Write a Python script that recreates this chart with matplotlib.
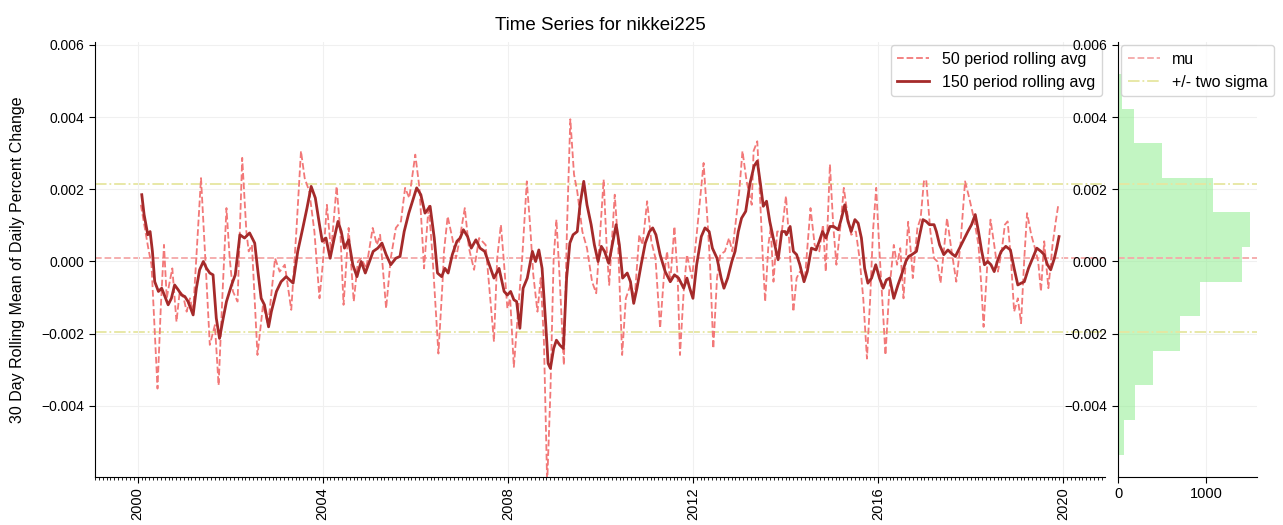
import numpy as np
import matplotlib
matplotlib.use("Agg")
import matplotlib.pyplot as plt
import matplotlib.dates as mdates
from matplotlib.ticker import MultipleLocator

plt.rcParams["font.family"] = ["Liberation Sans", "DejaVu Sans"]
plt.rcParams["font.size"] = 10

# 150 period rolling avg (decimal year, value in 1e-3)
yr150 = [2000.09, 2000.14, 2000.22, 2000.27, 2000.32, 2000.37, 2000.45, 2000.52, 2000.59, 2000.66,
         2000.73, 2000.80, 2000.88, 2000.95, 2001.02, 2001.09, 2001.20, 2001.27, 2001.34, 2001.42,
         2001.49, 2001.56, 2001.63, 2001.70, 2001.77, 2001.85, 2001.92, 2002.03, 2002.11, 2002.21,
         2002.31, 2002.42, 2002.53, 2002.60, 2002.67, 2002.74, 2002.83, 2002.89, 2003.00, 2003.10,
         2003.21, 2003.36, 2003.46, 2003.57, 2003.66, 2003.75, 2003.84, 2003.93, 2003.99, 2004.07,
         2004.16, 2004.25, 2004.33, 2004.40, 2004.47, 2004.56, 2004.65, 2004.74, 2004.83, 2004.92,
         2005.01, 2005.09, 2005.19, 2005.28, 2005.37, 2005.47, 2005.58, 2005.67, 2005.76, 2005.86,
         2005.94, 2006.03, 2006.12, 2006.21, 2006.32, 2006.41, 2006.48, 2006.57, 2006.64, 2006.71,
         2006.80, 2006.90, 2006.97, 2007.04, 2007.13, 2007.21, 2007.31, 2007.40, 2007.50, 2007.59,
         2007.70, 2007.81, 2007.92, 2007.99, 2008.06, 2008.13, 2008.19, 2008.26, 2008.33, 2008.42,
         2008.53, 2008.60, 2008.67, 2008.74, 2008.82, 2008.87, 2008.92, 2008.99, 2009.05, 2009.12,
         2009.20, 2009.27, 2009.34, 2009.41, 2009.50, 2009.56, 2009.64, 2009.71, 2009.80, 2009.87,
         2009.95, 2010.02, 2010.09, 2010.18, 2010.27, 2010.34, 2010.41, 2010.48, 2010.58, 2010.65,
         2010.72, 2010.79, 2010.88, 2010.97, 2011.06, 2011.13, 2011.20, 2011.29, 2011.40, 2011.51,
         2011.60, 2011.69, 2011.80, 2011.87, 2011.93, 2012.00, 2012.08, 2012.18, 2012.26, 2012.35,
         2012.42, 2012.52, 2012.61, 2012.67, 2012.75, 2012.84, 2012.91, 2012.98, 2013.05, 2013.14,
         2013.23, 2013.32, 2013.39, 2013.46, 2013.52, 2013.59, 2013.66, 2013.75, 2013.84, 2013.92,
         2013.99, 2014.02, 2014.10, 2014.17, 2014.24, 2014.31, 2014.40, 2014.47, 2014.56, 2014.66,
         2014.73, 2014.80, 2014.87, 2014.96, 2015.04, 2015.14, 2015.21, 2015.28, 2015.35, 2015.42,
         2015.50, 2015.57, 2015.64, 2015.71, 2015.78, 2015.86, 2015.95, 2016.03, 2016.11, 2016.18,
         2016.25, 2016.34, 2016.43, 2016.52, 2016.60, 2016.66, 2016.73, 2016.83, 2016.90, 2016.97,
         2017.04, 2017.11, 2017.21, 2017.26, 2017.33, 2017.42, 2017.51, 2017.58, 2017.67, 2017.76,
         2017.85, 2017.94, 2018.02, 2018.10, 2018.17, 2018.24, 2018.30, 2018.37, 2018.44, 2018.51,
         2018.59, 2018.66, 2018.76, 2018.86, 2018.94, 2019.02, 2019.09, 2019.16, 2019.25, 2019.34,
         2019.43, 2019.52, 2019.59, 2019.66, 2019.73, 2019.81, 2019.86, 2019.91]
val150 = [1.85, 1.30, 0.74, 0.83, 0.28, -0.56, -0.83, -0.74, -0.97, -1.20,
          -1.02, -0.65, -0.79, -0.93, -0.97, -1.11, -1.48, -0.74, -0.23, 0.00,
          -0.19, -0.32, -0.37, -1.57, -2.13, -1.57, -1.11, -0.65, -0.37, 0.74,
          0.65, 0.79, 0.51, -0.28, -1.02, -1.20, -1.81, -1.39, -0.83, -0.56,
          -0.42, -0.60, 0.28, 0.93, 1.48, 2.08, 1.76, 1.02, 0.56, 0.65,
          0.09, 0.65, 1.11, 0.83, 0.37, 0.60, -0.09, -0.42, 0.00, -0.32,
          0.00, 0.28, 0.37, 0.51, 0.19, -0.09, 0.09, 0.14, 0.83, 1.34,
          1.67, 2.04, 1.85, 1.34, 1.53, 0.65, -0.32, -0.42, -0.19, -0.32,
          0.19, 0.56, 0.65, 0.88, 0.69, 0.37, 0.60, 0.37, 0.28, -0.05,
          -0.46, -0.19, -0.83, -0.93, -0.83, -1.06, -1.11, -1.85, -0.74, -0.46,
          0.28, 0.00, 0.32, -0.19, -1.76, -2.82, -2.96, -2.41, -2.18, -2.31,
          -2.41, -0.46, 0.51, 0.74, 0.83, 1.57, 2.22, 1.57, 1.02, 0.46,
          0.00, 0.42, 0.28, -0.05, 0.56, 1.02, 0.46, -0.46, -0.32, -0.56,
          -1.16, -0.74, -0.09, 0.51, 0.83, 0.93, 0.74, 0.19, -0.28, -0.56,
          -0.37, -0.46, -0.74, -0.46, -0.74, -1.02, -0.09, 0.69, 0.93, 0.83,
          0.37, 0.09, -0.46, -0.74, -0.46, 0.00, 0.28, 0.83, 1.20, 1.39,
          2.15, 2.64, 2.78, 2.13, 1.53, 1.67, 1.11, 0.56, 0.05, 0.83,
          0.83, 0.74, 0.97, 0.28, 0.19, -0.09, -0.56, -0.28, 0.37, 0.32,
          0.56, 0.83, 0.65, 0.97, 0.97, 0.88, 1.20, 1.57, 1.11, 0.83,
          1.16, 1.06, 0.65, -0.19, -0.60, -0.46, -0.09, -0.46, -0.74, -0.51,
          -0.46, -1.02, -0.65, -0.32, 0.00, 0.14, 0.19, 0.28, 0.74, 1.16,
          1.11, 1.02, 1.02, 0.83, 0.46, 0.19, 0.32, 0.23, 0.14, 0.37,
          0.60, 0.83, 1.02, 1.30, 0.83, 0.28, -0.09, 0.00, -0.09, -0.28,
          0.05, 0.28, 0.42, 0.32, -0.19, -0.65, -0.60, -0.56, -0.19, 0.09,
          0.37, 0.28, 0.19, -0.09, -0.23, 0.09, 0.37, 0.69]

# 50 period rolling avg (decimal year, value in 1e-3)
yr50 = [2000.07, 2000.23, 2000.30, 2000.43, 2000.50, 2000.57, 2000.63, 2000.68, 2000.75, 2000.84,
        2000.91, 2000.98, 2001.06, 2001.13, 2001.20, 2001.37, 2001.47, 2001.56, 2001.67, 2001.75,
        2001.83, 2001.92, 2001.99, 2002.06, 2002.16, 2002.26, 2002.35, 2002.40, 2002.47, 2002.59,
        2002.71, 2002.82, 2002.97, 2003.07, 2003.18, 2003.32, 2003.43, 2003.53, 2003.61, 2003.71,
        2003.82, 2003.93, 2004.00, 2004.09, 2004.18, 2004.30, 2004.38, 2004.45, 2004.56, 2004.67,
        2004.76, 2004.83, 2004.94, 2005.08, 2005.17, 2005.24, 2005.37, 2005.47, 2005.58, 2005.69,
        2005.78, 2005.87, 2006.00, 2006.09, 2006.19, 2006.29, 2006.37, 2006.50, 2006.59, 2006.62,
        2006.70, 2006.80, 2006.88, 2006.95, 2007.07, 2007.16, 2007.27, 2007.38, 2007.52, 2007.62,
        2007.70, 2007.77, 2007.85, 2007.92, 2007.99, 2008.05, 2008.13, 2008.22, 2008.31, 2008.41,
        2008.48, 2008.55, 2008.64, 2008.71, 2008.78, 2008.85, 2008.92, 2008.99, 2009.05, 2009.12,
        2009.21, 2009.28, 2009.35, 2009.43, 2009.50, 2009.61, 2009.71, 2009.82, 2009.91, 2010.07,
        2010.14, 2010.19, 2010.31, 2010.38, 2010.47, 2010.55, 2010.65, 2010.74, 2010.84, 2010.91,
        2011.01, 2011.10, 2011.19, 2011.29, 2011.37, 2011.44, 2011.51, 2011.60, 2011.67, 2011.72,
        2011.80, 2011.87, 2011.98, 2012.08, 2012.23, 2012.32, 2012.37, 2012.44, 2012.52, 2012.59,
        2012.69, 2012.78, 2012.85, 2012.91, 2013.00, 2013.07, 2013.16, 2013.27, 2013.31, 2013.39,
        2013.45, 2013.51, 2013.56, 2013.63, 2013.68, 2013.74, 2013.82, 2013.92, 2014.01, 2014.08,
        2014.17, 2014.24, 2014.31, 2014.42, 2014.54, 2014.63, 2014.73, 2014.81, 2014.87, 2014.96,
        2015.03, 2015.10, 2015.19, 2015.26, 2015.35, 2015.42, 2015.52, 2015.60, 2015.68, 2015.76,
        2015.83, 2015.89, 2015.96, 2016.03, 2016.09, 2016.16, 2016.24, 2016.34, 2016.41, 2016.48,
        2016.55, 2016.65, 2016.72, 2016.75, 2016.85, 2016.92, 2016.99, 2017.04, 2017.13, 2017.21,
        2017.28, 2017.35, 2017.42, 2017.49, 2017.58, 2017.69, 2017.78, 2017.88, 2017.97, 2018.07,
        2018.17, 2018.23, 2018.28, 2018.36, 2018.43, 2018.51, 2018.59, 2018.67, 2018.74, 2018.80,
        2018.87, 2018.94, 2019.02, 2019.09, 2019.16, 2019.22, 2019.31, 2019.39, 2019.46, 2019.52,
        2019.59, 2019.68, 2019.77, 2019.84, 2019.89]
val50 = [1.57, 0.37, -0.09, -3.52, -1.30, 0.46, -1.02, -0.65, -0.19, -1.67,
         -0.83, -0.93, -1.39, -1.02, -1.39, 2.31, -0.09, -2.31, -1.76, -3.43,
         -1.02, 1.48, 0.09, -0.83, -1.11, 2.87, 0.83, 0.28, 0.46, -2.59,
         -1.20, -1.76, 0.09, -0.28, -0.09, -1.34, 0.83, 3.06, 2.31, 1.94,
         0.83, -1.02, -0.09, 1.57, 0.28, 2.08, 0.83, -1.20, 0.93, -1.11,
         0.00, 0.09, -0.19, 0.93, 0.46, 0.74, -1.30, 0.09, 0.93, 1.11,
         2.04, 1.76, 2.96, 2.04, -0.19, 1.57, 0.19, -2.55, -0.56, 0.28,
         1.25, 0.65, 0.09, 0.56, 1.48, 0.37, -0.23, 0.65, 0.46, -1.02,
         -2.22, 0.09, 1.02, -0.09, -1.30, -1.02, -2.92, -1.39, 0.09, 2.22,
         1.02, -0.37, -1.39, -0.46, -2.22, -6.15, -3.61, 0.09, 1.16, -0.46,
         -2.87, 1.02, 3.94, 2.41, 1.94, 0.83, 0.37, -0.56, -0.88, 2.27,
         0.28, -0.65, 1.85, 0.56, -2.59, -1.02, -0.65, -1.02, 0.74, 0.46,
         1.67, 0.56, 0.09, -1.85, -0.46, 0.28, -0.56, 0.97, -0.46, -2.59,
         -0.83, 0.19, -0.46, 0.74, 2.73, 1.02, -0.09, -2.41, -0.46, 0.19,
         0.28, 0.65, 0.28, 0.93, 1.94, 3.06, 2.22, 1.57, 3.06, 3.33,
         1.76, 0.09, -1.11, 0.46, 0.93, -0.56, 0.83, 0.83, 1.81, 0.56,
         -1.39, -0.46, -0.28, -0.46, 1.48, 0.46, 0.28, 1.02, -0.28, 2.69,
         1.02, -0.09, 1.02, 2.04, 1.20, 0.74, 0.83, 0.09, -1.02, -2.69,
         -1.02, 0.83, 2.04, 0.28, -1.02, -2.59, -0.83, 0.46, -0.09, 0.37,
         -1.02, 1.10, 0.09, -0.46, 0.93, 1.20, 2.22, 2.27, 0.83, 0.09,
         0.00, -0.60, 0.28, 1.20, 0.37, -0.56, 0.46, 2.22, 1.76, 1.20,
         0.46, -0.65, -1.81, -0.09, 1.16, 0.46, -0.28, 0.28, 1.02, 1.11,
         0.09, -1.39, -1.02, -1.71, 0.09, 1.34, 0.74, 0.37, 0.00, -0.83,
         0.56, -0.74, 0.46, 1.11, 1.53]

# distribution of the 50 period avg
bin_edges = [-5.35, -4.39, -3.43, -2.48, -1.52, -0.56, 0.40, 1.36, 2.31, 3.27, 4.23, 5.19]
bin_counts = [68, 197, 398, 701, 928, 1401, 1496, 1072, 492, 178, 50]

mu = 0.10
sigma = 1.02


def to_dates(years):
    years = np.asarray(years)
    base = mdates.date2num(np.datetime64("2000-01-01"))
    return base + (years - 2000) * 365.25


x150 = to_dates(yr150)
y150 = np.array(val150) * 1e-3
x50 = to_dates(yr50)
y50 = np.array(val50) * 1e-3
edges = np.array(bin_edges) * 1e-3
mu_v = mu * 1e-3
up_v = (mu + 2 * sigma) * 1e-3
lo_v = (mu - 2 * sigma) * 1e-3

fig = plt.figure(figsize=(12.83, 5.25), dpi=100)
ax = fig.add_axes([0.0740, 0.0914, 0.7872, 0.8286])
axh = fig.add_axes([0.8714, 0.0914, 0.1083, 0.8286], sharey=ax)

grid_kw = dict(color="#f0f0f0", linewidth=0.8)
dash_col = "#f27878"
mu_col = "#f5a8a8"
sig_col = "#e6e6a0"

ax.plot(x50, y50, color=dash_col, linestyle="--", linewidth=1.3,
        label="50 period rolling avg")
ax.plot(x150, y150, color="#a52a2a", linewidth=2, label="150 period rolling avg")
ax.axhline(mu_v, color=mu_col, linestyle="--", linewidth=1.3, zorder=0)
ax.axhline(up_v, color=sig_col, linestyle="-.", linewidth=1.3, zorder=0)
ax.axhline(lo_v, color=sig_col, linestyle="-.", linewidth=1.3, zorder=0)

ax.set_ylim(-0.00597, 0.00608)
ax.xaxis.set_major_locator(mdates.YearLocator(4))
ax.xaxis.set_major_formatter(mdates.DateFormatter("%Y"))
ax.xaxis.set_minor_locator(mdates.MonthLocator())
ax.yaxis.set_major_locator(MultipleLocator(0.002))
ax.tick_params(axis="x", which="major", rotation=90, length=4, labelsize=10.5)
ax.tick_params(axis="x", which="minor", length=2)
ax.tick_params(axis="y", length=4)
ax.grid(True, which="major", **grid_kw)
for s in ("top", "right"):
    ax.spines[s].set_visible(False)
ax.set_ylabel("30 Day Rolling Mean of Daily Percent Change", fontsize=11.5, labelpad=12)
ax.set_title("Time Series for nikkei225", fontsize=13.5, pad=9)
ax.legend(loc="upper right", fontsize=11.5, borderaxespad=0.2)

# histogram panel
axh.hist(edges[:-1], bins=edges, weights=bin_counts, orientation="horizontal",
         color="#90ee90", alpha=0.55)
axh.axhline(mu_v, color=mu_col, linestyle="--", linewidth=1.3, label="mu")
axh.axhline(up_v, color=sig_col, linestyle="-.", linewidth=1.3, label="+/- two sigma")
axh.axhline(lo_v, color=sig_col, linestyle="-.", linewidth=1.3)
axh.xaxis.set_major_locator(MultipleLocator(1000))
axh.tick_params(axis="y", labelleft=True, length=4)
axh.tick_params(axis="x", length=4, labelsize=10.5)
axh.grid(True, **grid_kw)
axh.set_axisbelow(True)
for s in ("top", "right"):
    axh.spines[s].set_visible(False)
axh.legend(loc="upper left", fontsize=11.5, borderaxespad=0.2)

fig.savefig("out.png", dpi=100)
